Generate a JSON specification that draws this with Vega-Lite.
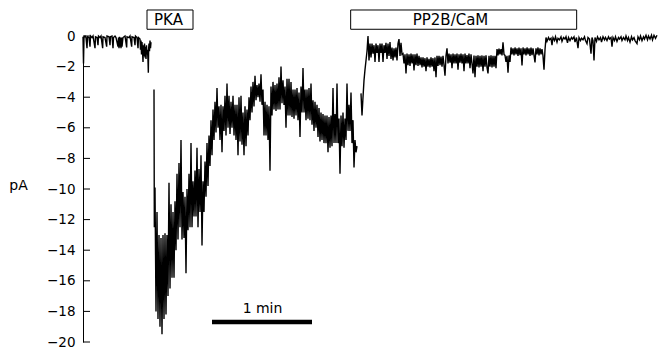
{
"$schema": "https://vega.github.io/schema/vega-lite/v6.json",
"width": 574, "height": 306,
"autosize": {"type": "none"},
"padding": {"left": 83, "top": 36, "right": 1, "bottom": 10},
"background": "white",
"config": {"view": {"stroke": null}, "axis": {"labelOverlap": false, "labelSeparation": 0}, "axisY": {"grid": false, "ticks": false, "labelFont": "DejaVu Sans", "labelFontSize": 13.5, "labelColor": "black", "labelFlush": false, "labelOverlap": false, "labelPadding": 8, "domainColor": "black", "domainWidth": 1, "titleFont": "DejaVu Sans", "titleFontSize": 14, "titleFontWeight": "normal", "titleColor": "black"}},
"datasets": {
"trace": [
{"s":1,"t":0,"v":-0.05},{"s":1,"t":0.3,"v":-1.8},{"s":1,"t":0.6,"v":-0.1},{"s":1,"t":1.2,"v":0},{"s":1,"t":1.8,"v":-0.1},{"s":1,"t":2.4,"v":-0.8},{"s":1,"t":2.7,"v":-0.05},{"s":1,"t":3.6,"v":-0.1},{"s":1,"t":4.2,"v":-0.7},{"s":1,"t":4.5,"v":0},{"s":1,"t":5.4,"v":-0.1},{"s":1,"t":6.0,"v":0},{"s":1,"t":7.2,"v":-0.8},{"s":1,"t":7.5,"v":-0.05},{"s":1,"t":8.4,"v":-0.1},{"s":1,"t":9.0,"v":-0.6},{"s":1,"t":9.3,"v":0},{"s":1,"t":10.2,"v":-0.1},{"s":1,"t":10.8,"v":0},{"s":1,"t":11.8,"v":-0.8},{"s":1,"t":12.0,"v":-0.05},{"s":1,"t":13.2,"v":-0.1},{"s":1,"t":14.2,"v":-0.7},{"s":1,"t":14.4,"v":0},{"s":1,"t":15.6,"v":-0.05},{"s":1,"t":16.2,"v":-0.6},{"s":1,"t":16.5,"v":-0.05},{"s":1,"t":17.4,"v":0},{"s":1,"t":18.0,"v":-0.8},{"s":1,"t":18.3,"v":-0.1},{"s":1,"t":19.2,"v":0},{"s":1,"t":19.8,"v":-0.1},{"s":1,"t":21.0,"v":-0.7},{"s":1,"t":21.3,"v":-0.1},{"s":1,"t":21.6,"v":-0.8},{"s":1,"t":21.9,"v":-0.05},{"s":1,"t":22.2,"v":-0.7},{"s":1,"t":22.5,"v":-0.1},{"s":1,"t":22.8,"v":-0.8},{"s":1,"t":23.1,"v":-0.1},{"s":1,"t":23.4,"v":-0.7},{"s":1,"t":24.0,"v":-0.1},{"s":1,"t":25.2,"v":0},{"s":1,"t":26.2,"v":-0.75},{"s":1,"t":26.4,"v":-0.05},{"s":1,"t":27.6,"v":-0.1},{"s":1,"t":28.2,"v":0},{"s":1,"t":29.2,"v":-0.7},{"s":1,"t":29.4,"v":-0.05},{"s":1,"t":30.6,"v":-0.1},{"s":1,"t":31.2,"v":-0.6},{"s":1,"t":31.5,"v":0},{"s":1,"t":32.4,"v":-0.1},{"s":1,"t":33.0,"v":-0.8},{"s":1,"t":33.3,"v":-0.1},{"s":1,"t":34.2,"v":-0.2},{"s":1,"t":34.5,"v":-0.9},{"s":1,"t":34.8,"v":-0.3},{"s":1,"t":35.1,"v":-1.2},{"s":1,"t":35.4,"v":-0.4},{"s":1,"t":35.7,"v":-1.0},{"s":1,"t":36.0,"v":-1.7},{"s":1,"t":36.3,"v":-0.6},{"s":1,"t":36.6,"v":-1.3},{"s":1,"t":36.9,"v":-0.5},{"s":1,"t":37.2,"v":-1.4},{"s":1,"t":37.5,"v":-0.7},{"s":1,"t":37.8,"v":-1.5},{"s":1,"t":38.1,"v":-0.6},{"s":1,"t":38.4,"v":-1.2},{"s":1,"t":38.7,"v":-0.9},{"s":1,"t":39.0,"v":-1.6},{"s":1,"t":39.2,"v":-2.4},{"s":1,"t":39.4,"v":-0.8},{"s":1,"t":39.6,"v":-0.5},{"s":1,"t":39.9,"v":-1.0},{"s":1,"t":40.2,"v":-0.3},{"s":1,"t":40.5,"v":-0.8},{"s":1,"t":40.8,"v":-0.4},
{"s":2,"t":42.6,"v":-3.5},{"s":2,"t":42.8,"v":-12.5},{"s":2,"t":43.2,"v":-9.9},{"s":2,"t":43.8,"v":-18.0},{"s":2,"t":44.4,"v":-11.5},{"s":2,"t":45.0,"v":-18.5},{"s":2,"t":45.6,"v":-13.0},{"s":2,"t":46.2,"v":-19.0},{"s":2,"t":46.8,"v":-13.2},{"s":2,"t":47.4,"v":-19.5},{"s":2,"t":48.0,"v":-13.0},{"s":2,"t":48.6,"v":-18.5},{"s":2,"t":49.2,"v":-12.9},{"s":2,"t":49.8,"v":-18.2},{"s":2,"t":50.4,"v":-13.0},{"s":2,"t":51.0,"v":-17.0},{"s":2,"t":51.6,"v":-9.6},{"s":2,"t":52.2,"v":-16.5},{"s":2,"t":52.8,"v":-11.0},{"s":2,"t":53.4,"v":-15.8},{"s":2,"t":54.0,"v":-11.5},{"s":2,"t":54.6,"v":-15.8},{"s":2,"t":55.2,"v":-10.8},{"s":2,"t":55.8,"v":-14.0},{"s":2,"t":56.4,"v":-9.0},{"s":2,"t":57.0,"v":-13.3},{"s":2,"t":57.6,"v":-8.3},{"s":2,"t":58.2,"v":-12.5},{"s":2,"t":58.8,"v":-6.8},{"s":2,"t":59.4,"v":-13.3},{"s":2,"t":60.0,"v":-10.2},{"s":2,"t":60.6,"v":-13.2},{"s":2,"t":61.2,"v":-10.5},{"s":2,"t":61.8,"v":-15.5},{"s":2,"t":62.4,"v":-10.0},{"s":2,"t":63.0,"v":-12.7},{"s":2,"t":63.6,"v":-9.0},{"s":2,"t":64.2,"v":-12.5},{"s":2,"t":64.8,"v":-7.0},{"s":2,"t":65.4,"v":-12.5},{"s":2,"t":66.0,"v":-9.5},{"s":2,"t":66.6,"v":-11.8},{"s":2,"t":67.2,"v":-8.8},{"s":2,"t":67.8,"v":-11.8},{"s":2,"t":68.4,"v":-7.3},{"s":2,"t":69.0,"v":-12.5},{"s":2,"t":69.6,"v":-8.7},{"s":2,"t":70.2,"v":-11.5},{"s":2,"t":70.8,"v":-7.8},{"s":2,"t":71.4,"v":-13.7},{"s":2,"t":72.0,"v":-9.5},{"s":2,"t":72.6,"v":-11.5},{"s":2,"t":73.2,"v":-8.2},{"s":2,"t":73.8,"v":-10.5},{"s":2,"t":74.4,"v":-7.0},{"s":2,"t":75.0,"v":-9.8},{"s":2,"t":75.6,"v":-6.5},{"s":2,"t":76.2,"v":-8.5},{"s":2,"t":76.8,"v":-5.5},{"s":2,"t":77.4,"v":-7.8},{"s":2,"t":78.0,"v":-4.8},{"s":2,"t":78.6,"v":-6.8},{"s":2,"t":79.2,"v":-4.3},{"s":2,"t":79.8,"v":-6.3},{"s":2,"t":80.4,"v":-3.4},{"s":2,"t":81.0,"v":-6.0},{"s":2,"t":81.6,"v":-4.6},{"s":2,"t":82.2,"v":-6.8},{"s":2,"t":82.8,"v":-4.5},{"s":2,"t":83.4,"v":-7.6},{"s":2,"t":84.0,"v":-4.6},{"s":2,"t":84.6,"v":-6.2},{"s":2,"t":85.2,"v":-3.9},{"s":2,"t":85.8,"v":-6.5},{"s":2,"t":86.4,"v":-3.1},{"s":2,"t":87.0,"v":-6.0},{"s":2,"t":87.6,"v":-3.9},{"s":2,"t":88.2,"v":-6.4},{"s":2,"t":88.8,"v":-4.3},{"s":2,"t":89.4,"v":-6.0},{"s":2,"t":90.0,"v":-3.9},{"s":2,"t":90.6,"v":-6.5},{"s":2,"t":91.2,"v":-4.5},{"s":2,"t":91.8,"v":-6.8},{"s":2,"t":92.4,"v":-4.5},{"s":2,"t":93.0,"v":-7.8},{"s":2,"t":93.6,"v":-4.0},{"s":2,"t":94.2,"v":-6.9},{"s":2,"t":94.8,"v":-3.9},{"s":2,"t":95.4,"v":-7.1},{"s":2,"t":96.0,"v":-5.0},{"s":2,"t":96.6,"v":-7.8},{"s":2,"t":97.2,"v":-4.6},{"s":2,"t":97.8,"v":-7.2},{"s":2,"t":98.4,"v":-4.8},{"s":2,"t":99.0,"v":-6.5},{"s":2,"t":99.6,"v":-4.0},{"s":2,"t":100.2,"v":-5.5},{"s":2,"t":100.8,"v":-3.3},{"s":2,"t":101.4,"v":-5.0},{"s":2,"t":102.0,"v":-3.0},{"s":2,"t":102.6,"v":-4.6},{"s":2,"t":103.2,"v":-2.6},{"s":2,"t":103.8,"v":-4.2},{"s":2,"t":104.4,"v":-3.2},{"s":2,"t":105.0,"v":-4.0},{"s":2,"t":105.6,"v":-3.1},{"s":2,"t":106.2,"v":-4.3},{"s":2,"t":106.8,"v":-2.5},{"s":2,"t":107.4,"v":-4.5},{"s":2,"t":108.0,"v":-3.5},{"s":2,"t":108.6,"v":-6.5},{"s":2,"t":109.2,"v":-4.3},{"s":2,"t":109.8,"v":-6.5},{"s":2,"t":110.4,"v":-4.5},{"s":2,"t":111.0,"v":-6.8},{"s":2,"t":111.6,"v":-4.6},{"s":2,"t":112.2,"v":-8.8},{"s":2,"t":112.8,"v":-3.3},{"s":2,"t":113.4,"v":-5.2},{"s":2,"t":114.0,"v":-3.0},{"s":2,"t":114.6,"v":-4.8},{"s":2,"t":115.2,"v":-3.2},{"s":2,"t":115.8,"v":-4.9},{"s":2,"t":116.4,"v":-3.1},{"s":2,"t":117.0,"v":-4.8},{"s":2,"t":117.6,"v":-2.7},{"s":2,"t":118.2,"v":-4.8},{"s":2,"t":118.8,"v":-2.0},{"s":2,"t":119.4,"v":-4.4},{"s":2,"t":120.0,"v":-2.9},{"s":2,"t":120.6,"v":-4.5},{"s":2,"t":121.2,"v":-3.3},{"s":2,"t":121.8,"v":-6.0},{"s":2,"t":122.4,"v":-2.8},{"s":2,"t":123.0,"v":-5.2},{"s":2,"t":123.6,"v":-2.8},{"s":2,"t":124.2,"v":-5.2},{"s":2,"t":124.8,"v":-3.0},{"s":2,"t":125.4,"v":-5.3},{"s":2,"t":126.0,"v":-3.5},{"s":2,"t":126.6,"v":-5.4},{"s":2,"t":127.2,"v":-3.5},{"s":2,"t":127.8,"v":-5.2},{"s":2,"t":128.4,"v":-3.4},{"s":2,"t":129.0,"v":-5.5},{"s":2,"t":129.6,"v":-3.7},{"s":2,"t":130.2,"v":-6.6},{"s":2,"t":130.8,"v":-3.3},{"s":2,"t":131.4,"v":-5.0},{"s":2,"t":132.0,"v":-2.1},{"s":2,"t":132.6,"v":-5.0},{"s":2,"t":133.2,"v":-3.5},{"s":2,"t":133.8,"v":-5.5},{"s":2,"t":134.4,"v":-3.5},{"s":2,"t":135.0,"v":-5.4},{"s":2,"t":135.6,"v":-3.4},{"s":2,"t":136.2,"v":-5.5},{"s":2,"t":136.8,"v":-3.1},{"s":2,"t":137.4,"v":-5.8},{"s":2,"t":138.0,"v":-4.2},{"s":2,"t":138.6,"v":-6.2},{"s":2,"t":139.2,"v":-4.3},{"s":2,"t":139.8,"v":-6.0},{"s":2,"t":140.4,"v":-4.5},{"s":2,"t":141.0,"v":-6.6},{"s":2,"t":141.6,"v":-4.7},{"s":2,"t":142.2,"v":-6.9},{"s":2,"t":142.8,"v":-5.0},{"s":2,"t":143.4,"v":-6.8},{"s":2,"t":144.0,"v":-5.1},{"s":2,"t":144.6,"v":-7.0},{"s":2,"t":145.2,"v":-5.2},{"s":2,"t":145.8,"v":-7.0},{"s":2,"t":146.4,"v":-5.2},{"s":2,"t":147.0,"v":-7.6},{"s":2,"t":147.6,"v":-5.3},{"s":2,"t":148.2,"v":-7.3},{"s":2,"t":148.8,"v":-5.2},{"s":2,"t":149.4,"v":-7.2},{"s":2,"t":150.0,"v":-3.4},{"s":2,"t":150.6,"v":-7.0},{"s":2,"t":151.2,"v":-5.1},{"s":2,"t":151.8,"v":-7.0},{"s":2,"t":152.4,"v":-3.1},{"s":2,"t":153.0,"v":-7.0},{"s":2,"t":153.6,"v":-5.4},{"s":2,"t":154.2,"v":-9.0},{"s":2,"t":154.8,"v":-5.2},{"s":2,"t":155.4,"v":-7.2},{"s":2,"t":156.0,"v":-5.0},{"s":2,"t":156.6,"v":-7.3},{"s":2,"t":157.2,"v":-5.4},{"s":2,"t":157.8,"v":-6.8},{"s":2,"t":158.4,"v":-3.1},{"s":2,"t":159.0,"v":-6.2},{"s":2,"t":159.6,"v":-4.5},{"s":2,"t":160.2,"v":-6.2},{"s":2,"t":160.8,"v":-3.7},{"s":2,"t":161.4,"v":-7.0},{"s":2,"t":162.0,"v":-5.5},{"s":2,"t":162.6,"v":-8.6},{"s":2,"t":163.2,"v":-6.8},{"s":2,"t":163.8,"v":-7.6},{"s":2,"t":164.4,"v":-7.2},
{"s":3,"t":166.8,"v":-3.75},{"s":3,"t":167.4,"v":-5.2},{"s":3,"t":168.0,"v":-4.0},{"s":3,"t":168.6,"v":-2.9},{"s":3,"t":169.2,"v":-2.2},{"s":3,"t":169.8,"v":-1.6},{"s":3,"t":170.4,"v":-1.0},{"s":3,"t":171.0,"v":0.0},{"s":3,"t":171.6,"v":-1.6},{"s":3,"t":172.2,"v":-0.5},{"s":3,"t":172.8,"v":-1.4},{"s":3,"t":173.4,"v":-0.5},{"s":3,"t":174.0,"v":-1.15},{"s":3,"t":174.6,"v":-0.6},{"s":3,"t":175.2,"v":-1.7},{"s":3,"t":175.8,"v":-0.5},{"s":3,"t":176.4,"v":-1.1},{"s":3,"t":177.0,"v":-0.6},{"s":3,"t":177.6,"v":-1.7},{"s":3,"t":178.2,"v":-0.5},{"s":3,"t":178.8,"v":-1.1},{"s":3,"t":179.4,"v":-0.5},{"s":3,"t":180.0,"v":-1.7},{"s":3,"t":180.6,"v":-0.6},{"s":3,"t":181.2,"v":-1.1},{"s":3,"t":181.8,"v":-0.45},{"s":3,"t":182.4,"v":-1.5},{"s":3,"t":183.0,"v":-0.5},{"s":3,"t":183.6,"v":-1.3},{"s":3,"t":184.2,"v":-0.4},{"s":3,"t":184.8,"v":-1.5},{"s":3,"t":185.4,"v":-0.75},{"s":3,"t":186.0,"v":-1.6},{"s":3,"t":186.6,"v":-0.8},{"s":3,"t":187.2,"v":-1.4},{"s":3,"t":187.8,"v":-0.75},{"s":3,"t":188.4,"v":-1.6},{"s":3,"t":189.0,"v":-0.5},{"s":3,"t":189.6,"v":-0.2},{"s":3,"t":190.2,"v":-1.3},{"s":3,"t":190.8,"v":-0.45},{"s":3,"t":191.4,"v":-1.2},{"s":3,"t":192.0,"v":-1.15},{"s":3,"t":192.6,"v":-1.8},{"s":3,"t":193.2,"v":-1.2},{"s":3,"t":193.8,"v":-2.45},{"s":3,"t":194.4,"v":-1.15},{"s":3,"t":195.0,"v":-1.9},{"s":3,"t":195.6,"v":-1.2},{"s":3,"t":196.2,"v":-1.95},{"s":3,"t":196.8,"v":-1.15},{"s":3,"t":197.4,"v":-1.8},{"s":3,"t":198.0,"v":-1.2},{"s":3,"t":198.6,"v":-2.25},{"s":3,"t":199.2,"v":-1.2},{"s":3,"t":199.8,"v":-1.9},{"s":3,"t":200.4,"v":-1.15},{"s":3,"t":201.0,"v":-1.95},{"s":3,"t":201.6,"v":-1.3},{"s":3,"t":202.2,"v":-1.9},{"s":3,"t":202.8,"v":-1.4},{"s":3,"t":203.4,"v":-2.05},{"s":3,"t":204.0,"v":-1.4},{"s":3,"t":204.6,"v":-2.0},{"s":3,"t":205.2,"v":-1.45},{"s":3,"t":205.8,"v":-2.3},{"s":3,"t":206.4,"v":-1.4},{"s":3,"t":207.0,"v":-2.0},{"s":3,"t":207.6,"v":-1.5},{"s":3,"t":208.2,"v":-2.05},{"s":3,"t":208.8,"v":-1.4},{"s":3,"t":209.4,"v":-2.0},{"s":3,"t":210.0,"v":-1.45},{"s":3,"t":210.6,"v":-2.3},{"s":3,"t":211.2,"v":-1.4},{"s":3,"t":211.8,"v":-2.7},{"s":3,"t":212.4,"v":-1.3},{"s":3,"t":213.0,"v":-1.95},{"s":3,"t":213.6,"v":-1.3},{"s":3,"t":214.2,"v":-1.9},{"s":3,"t":214.8,"v":-1.35},{"s":3,"t":215.4,"v":-2.0},{"s":3,"t":216.0,"v":-1.3},{"s":3,"t":216.6,"v":-1.9},{"s":3,"t":217.2,"v":-2.6},{"s":3,"t":217.8,"v":-1.3},{"s":3,"t":218.4,"v":-0.8},{"s":3,"t":219.0,"v":-1.8},{"s":3,"t":219.6,"v":-1.15},{"s":3,"t":220.2,"v":-1.75},{"s":3,"t":220.8,"v":-1.2},{"s":3,"t":221.4,"v":-2.1},{"s":3,"t":222.0,"v":-1.15},{"s":3,"t":222.6,"v":-1.8},{"s":3,"t":223.2,"v":-1.2},{"s":3,"t":223.8,"v":-1.8},{"s":3,"t":224.4,"v":-1.15},{"s":3,"t":225.0,"v":-2.2},{"s":3,"t":225.6,"v":-1.2},{"s":3,"t":226.2,"v":-1.75},{"s":3,"t":226.8,"v":-1.15},{"s":3,"t":227.4,"v":-1.8},{"s":3,"t":228.0,"v":-1.2},{"s":3,"t":228.6,"v":-2.3},{"s":3,"t":229.2,"v":-1.15},{"s":3,"t":229.8,"v":-1.8},{"s":3,"t":230.4,"v":-1.25},{"s":3,"t":231.0,"v":-1.8},{"s":3,"t":231.6,"v":-1.15},{"s":3,"t":232.2,"v":-2.1},{"s":3,"t":232.8,"v":-1.2},{"s":3,"t":233.4,"v":-1.8},{"s":3,"t":234.0,"v":-2.45},{"s":3,"t":234.6,"v":-1.27},{"s":3,"t":235.2,"v":-2.7},{"s":3,"t":235.8,"v":-1.3},{"s":3,"t":236.4,"v":-2.0},{"s":3,"t":237.0,"v":-1.27},{"s":3,"t":237.6,"v":-2.05},{"s":3,"t":238.2,"v":-1.3},{"s":3,"t":238.8,"v":-2.0},{"s":3,"t":239.4,"v":-1.27},{"s":3,"t":240.0,"v":-2.3},{"s":3,"t":240.6,"v":-1.3},{"s":3,"t":241.2,"v":-2.0},{"s":3,"t":241.8,"v":-1.27},{"s":3,"t":242.4,"v":-2.05},{"s":3,"t":243.0,"v":-2.45},{"s":3,"t":243.6,"v":-1.3},{"s":3,"t":244.2,"v":-2.0},{"s":3,"t":244.8,"v":-1.27},{"s":3,"t":245.4,"v":-2.05},{"s":3,"t":246.0,"v":-1.3},{"s":3,"t":246.6,"v":-2.0},{"s":3,"t":247.2,"v":-1.3},{"s":3,"t":247.8,"v":-2.1},{"s":3,"t":248.4,"v":-0.85},{"s":3,"t":249.0,"v":-1.27},{"s":3,"t":249.6,"v":-0.82},{"s":3,"t":250.2,"v":-1.2},{"s":3,"t":250.8,"v":-0.85},{"s":3,"t":251.4,"v":-1.27},{"s":3,"t":252.0,"v":-0.42},{"s":3,"t":252.6,"v":-1.2},{"s":3,"t":253.2,"v":-1.27},{"s":3,"t":253.8,"v":-1.7},{"s":3,"t":254.4,"v":-1.3},{"s":3,"t":255.0,"v":-2.4},{"s":3,"t":255.6,"v":-1.27},{"s":3,"t":256.2,"v":-1.7},{"s":3,"t":256.8,"v":-0.75},{"s":3,"t":257.4,"v":-1.2},{"s":3,"t":258.0,"v":-0.8},{"s":3,"t":258.6,"v":-1.27},{"s":3,"t":259.2,"v":-0.75},{"s":3,"t":259.8,"v":-1.2},{"s":3,"t":260.4,"v":-0.8},{"s":3,"t":261.0,"v":-1.3},{"s":3,"t":261.6,"v":-0.75},{"s":3,"t":262.2,"v":-1.25},{"s":3,"t":262.8,"v":-0.8},{"s":3,"t":263.4,"v":-1.93},{"s":3,"t":264.0,"v":-0.75},{"s":3,"t":264.6,"v":-1.2},{"s":3,"t":265.2,"v":-0.8},{"s":3,"t":265.8,"v":-1.27},{"s":3,"t":266.4,"v":-0.75},{"s":3,"t":267.0,"v":-1.2},{"s":3,"t":267.6,"v":-0.8},{"s":3,"t":268.2,"v":-1.3},{"s":3,"t":268.8,"v":-0.75},{"s":3,"t":269.4,"v":-1.25},{"s":3,"t":270.0,"v":-0.8},{"s":3,"t":270.6,"v":-1.27},{"s":3,"t":271.2,"v":-1.73},{"s":3,"t":271.8,"v":-0.8},{"s":3,"t":272.4,"v":-1.2},{"s":3,"t":273.0,"v":-0.75},{"s":3,"t":273.6,"v":-1.27},{"s":3,"t":274.2,"v":-0.8},{"s":3,"t":274.8,"v":-1.2},{"s":3,"t":275.4,"v":-0.85},{"s":3,"t":276.0,"v":-1.3},{"s":3,"t":276.6,"v":-2.2},{"s":3,"t":277.2,"v":-0.9},{"s":3,"t":277.8,"v":-0.1},{"s":3,"t":278.4,"v":-0.35},{"s":3,"t":279.3,"v":-0.1},{"s":3,"t":279.9,"v":-0.25},{"s":3,"t":280.8,"v":-0.15},{"s":3,"t":281.4,"v":-0.6},{"s":3,"t":282.0,"v":-0.1},{"s":3,"t":282.9,"v":-0.3},{"s":3,"t":283.5,"v":-0.05},{"s":3,"t":284.4,"v":-0.4},{"s":3,"t":285.0,"v":-0.15},{"s":3,"t":285.9,"v":-0.25},{"s":3,"t":286.8,"v":-0.05},{"s":3,"t":287.4,"v":-0.35},{"s":3,"t":288.3,"v":-0.1},{"s":3,"t":289.2,"v":-0.2},{"s":3,"t":289.8,"v":-0.05},{"s":3,"t":290.7,"v":-0.45},{"s":3,"t":291.3,"v":-0.1},{"s":3,"t":292.2,"v":-0.3},{"s":3,"t":293.1,"v":-0.1},{"s":3,"t":293.7,"v":-0.2},{"s":3,"t":294.6,"v":-0.05},{"s":3,"t":295.2,"v":-0.4},{"s":3,"t":296.1,"v":-0.1},{"s":3,"t":297.0,"v":-0.8},{"s":3,"t":297.6,"v":-0.1},{"s":3,"t":298.5,"v":-0.3},{"s":3,"t":299.1,"v":-0.15},{"s":3,"t":300.0,"v":-0.25},{"s":3,"t":300.9,"v":-0.05},{"s":3,"t":301.5,"v":-0.3},{"s":3,"t":302.4,"v":-0.5},{"s":3,"t":303.0,"v":-0.1},{"s":3,"t":303.9,"v":-0.2},{"s":3,"t":304.8,"v":-1.15},{"s":3,"t":305.4,"v":-0.1},{"s":3,"t":306.0,"v":-0.3},{"s":3,"t":306.6,"v":-1.6},{"s":3,"t":307.2,"v":-0.1},{"s":3,"t":308.1,"v":-0.35},{"s":3,"t":308.7,"v":-0.05},{"s":3,"t":309.6,"v":-0.25},{"s":3,"t":310.5,"v":-0.1},{"s":3,"t":311.1,"v":-0.4},{"s":3,"t":312.0,"v":-0.05},{"s":3,"t":312.9,"v":-0.25},{"s":3,"t":313.5,"v":-0.1},{"s":3,"t":314.4,"v":-0.3},{"s":3,"t":315.3,"v":-0.05},{"s":3,"t":315.9,"v":-0.2},{"s":3,"t":316.8,"v":-0.1},{"s":3,"t":317.4,"v":-0.7},{"s":3,"t":318.0,"v":-0.1},{"s":3,"t":318.9,"v":-0.3},{"s":3,"t":319.5,"v":-0.05},{"s":3,"t":320.4,"v":-0.35},{"s":3,"t":321.3,"v":-0.1},{"s":3,"t":321.9,"v":-0.2},{"s":3,"t":322.8,"v":-0.05},{"s":3,"t":323.4,"v":-0.3},{"s":3,"t":324.3,"v":-0.1},{"s":3,"t":325.2,"v":-0.25},{"s":3,"t":325.8,"v":0.0},{"s":3,"t":326.7,"v":-0.3},{"s":3,"t":327.3,"v":-0.1},{"s":3,"t":328.2,"v":-0.4},{"s":3,"t":329.1,"v":-0.05},{"s":3,"t":329.7,"v":-0.25},{"s":3,"t":330.6,"v":-0.1},{"s":3,"t":331.2,"v":-0.3},{"s":3,"t":332.4,"v":-0.5},{"s":3,"t":333.0,"v":-0.05},{"s":3,"t":333.9,"v":-0.25},{"s":3,"t":334.5,"v":0.0},{"s":3,"t":335.4,"v":-0.3},{"s":3,"t":336.3,"v":-0.05},{"s":3,"t":336.9,"v":-0.2},{"s":3,"t":337.8,"v":0.05},{"s":3,"t":338.7,"v":-0.25},{"s":3,"t":339.3,"v":0.0},{"s":3,"t":340.2,"v":-0.2},{"s":3,"t":341.1,"v":0.05},{"s":3,"t":341.7,"v":-0.25},{"s":3,"t":342.6,"v":0.05},{"s":3,"t":343.5,"v":-0.15},{"s":3,"t":344.4,"v":0.05}
],
"ticks": [{"t":0,"t2":4.2,"v":0},{"t":0,"t2":4.2,"v":-2},{"t":0,"t2":4.2,"v":-4},{"t":0,"t2":4.2,"v":-6},{"t":0,"t2":4.2,"v":-8},{"t":0,"t2":4.2,"v":-10},{"t":0,"t2":4.2,"v":-12},{"t":0,"t2":4.2,"v":-14},{"t":0,"t2":4.2,"v":-16},{"t":0,"t2":4.2,"v":-18},{"t":0,"t2":4.2,"v":-20}]
},
"layer": [
{
"data": {"name": "trace"},
"mark": {"type": "line", "color": "black", "strokeWidth": 1.4},
"encoding": {
"x": {"field": "t", "type": "quantitative", "scale": {"domain": [0, 344.4], "nice": false, "zero": false}, "axis": null},
"y": {"field": "v", "type": "quantitative", "scale": {"domain": [-20, 0], "nice": false, "zero": false},
"axis": {"values": [0, -2, -4, -6, -8, -10, -12, -14, -16, -18, -20], "labelOverlap": false, "title": "pA", "titleAngle": 0, "titleAlign": "center", "titleBaseline": "alphabetic", "titleX": -65, "titleY": 153}},
"detail": {"field": "s", "type": "nominal"}
}
},
{
"data": {"name": "ticks"},
"mark": {"type": "rule", "color": "black", "strokeWidth": 1},
"encoding": {
"x": {"field": "t", "type": "quantitative", "axis": null},
"x2": {"field": "t2"},
"y": {"field": "v", "type": "quantitative", "axis": {"values": [0, -2, -4, -6, -8, -10, -12, -14, -16, -18, -20], "labelOverlap": false, "title": "pA"}}
}
},
{
"data": {"values": [{"t": 38.4, "t2": 66.0, "v": 1.7, "v2": 0.44}, {"t": 160.6, "t2": 296.2, "v": 1.7, "v2": 0.44}]},
"mark": {"type": "rect", "fill": "white", "stroke": "black", "strokeWidth": 1},
"encoding": {
"x": {"field": "t", "type": "quantitative", "axis": null},
"x2": {"field": "t2"},
"y": {"field": "v", "type": "quantitative", "axis": {"values": [0, -2, -4, -6, -8, -10, -12, -14, -16, -18, -20], "labelOverlap": false, "title": "pA"}},
"y2": {"field": "v2"}
}
},
{
"data": {"values": [{"t": 51.3, "v": 0.69, "label": "PKA"}, {"t": 220.5, "v": 0.69, "label": "PP2B/CaM"}]},
"mark": {"type": "text", "font": "DejaVu Sans", "fontSize": 15, "color": "black", "align": "center", "baseline": "alphabetic"},
"encoding": {
"x": {"field": "t", "type": "quantitative", "axis": null},
"y": {"field": "v", "type": "quantitative", "axis": {"values": [0, -2, -4, -6, -8, -10, -12, -14, -16, -18, -20], "labelOverlap": false, "title": "pA"}},
"text": {"field": "label"}
}
},
{
"data": {"values": [{"t": 77.4, "t2": 137.4, "v": -18.69}]},
"mark": {"type": "rule", "color": "black", "strokeWidth": 4.5, "strokeCap": "butt"},
"encoding": {
"x": {"field": "t", "type": "quantitative", "axis": null},
"x2": {"field": "t2"},
"y": {"field": "v", "type": "quantitative", "axis": {"values": [0, -2, -4, -6, -8, -10, -12, -14, -16, -18, -20], "labelOverlap": false, "title": "pA"}}
}
},
{
"data": {"values": [{"t": 107.7, "v": -18.12, "label": "1  min"}]},
"mark": {"type": "text", "font": "DejaVu Sans", "fontSize": 14, "color": "black", "align": "center", "baseline": "alphabetic"},
"encoding": {
"x": {"field": "t", "type": "quantitative", "axis": null},
"y": {"field": "v", "type": "quantitative", "axis": {"values": [0, -2, -4, -6, -8, -10, -12, -14, -16, -18, -20], "labelOverlap": false, "title": "pA"}},
"text": {"field": "label"}
}
}
]
}
